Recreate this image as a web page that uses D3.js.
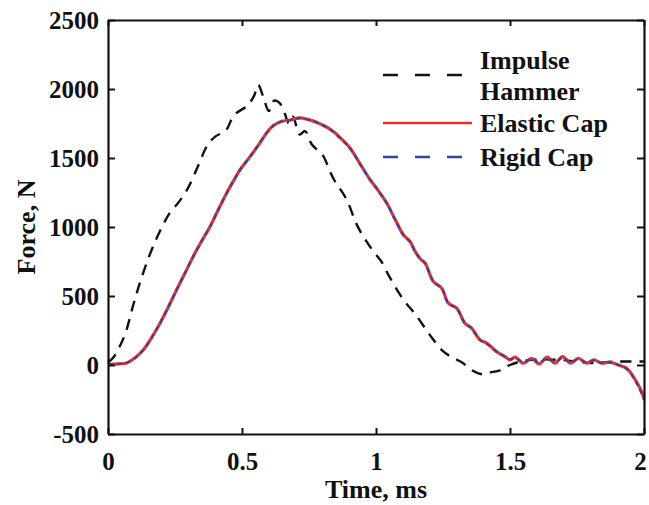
<!DOCTYPE html>
<meta charset="utf-8">
<head>
<style>
  body { margin: 0; background: #fff; }
  text { font-family: "Liberation Serif", "Times New Roman", serif; font-weight: bold; fill: #111; }
</style>
</head>
<body>
<script src="https://d3js.org/d3.v7.min.js"></script>
<script>

// ticks
var xTicks = [0, 0.5, 1, 1.5, 2];
var yTicks = [-500, 0, 500, 1000, 1500, 2000, 2500];

// series, [time ms, force N]
var hammer = [[0,20],[0.02,55],[0.04,120],[0.065,230],[0.095,440],[0.13,660],[0.175,890],[0.23,1100],[0.26,1170],
  [0.295,1270],[0.34,1460],[0.37,1590],[0.4,1655],[0.44,1700],[0.47,1810],[0.52,1880],[0.545,1950],[0.56,2030],
  [0.58,1940],[0.6,1840],[0.62,1915],[0.64,1900],[0.66,1820],[0.675,1750],[0.69,1800],[0.715,1670],[0.735,1695],
  [0.76,1600],[0.78,1560],[0.8,1525],[0.84,1355],[0.89,1200],[0.93,1010],[0.97,880],[1.0,800],[1.02,750],
  [1.05,640],[1.1,480],[1.15,360],[1.2,220],[1.25,100],[1.28,60],[1.32,20],[1.36,-40],[1.39,-65],[1.42,-55],
  [1.46,-40],[1.5,0],[1.55,30],[1.6,40],[1.7,35],[1.8,15],[1.9,25],[2.0,25]];

var elastic = [[0,5],[0.04,8],[0.07,15],[0.1,50],[0.132,110],[0.16,190],[0.194,303],[0.225,420],[0.256,545],
  [0.287,665],[0.318,787],[0.35,900],[0.381,1004],[0.41,1120],[0.443,1247],[0.47,1340],[0.493,1416],[0.53,1510],
  [0.567,1610],[0.595,1690],[0.617,1735],[0.648,1766],[0.68,1775],[0.716,1791],[0.745,1780],[0.778,1759],
  [0.81,1730],[0.84,1694],[0.87,1640],[0.903,1573],[0.94,1460],[0.978,1343],[1.01,1260],[1.04,1174],[1.07,1060],
  [1.102,944],[1.127,895],[1.146,823],[1.165,770],[1.183,739],[1.214,605],[1.245,557],[1.27,448],[1.301,412],
  [1.332,303],[1.357,267],[1.388,182],[1.413,158],[1.45,97],[1.481,61],[1.5,37],[1.519,57],[1.55,13],[1.581,49],
  [1.609,8],[1.639,57],[1.668,13],[1.696,61],[1.727,13],[1.755,49],[1.786,13],[1.813,37],[1.842,13],[1.873,20],
  [1.904,0],[1.935,-24],[1.96,-84],[1.985,-169],[2.0,-241]];

var rigid = [[0,5],[0.04,8],[0.07,15],[0.1,50],[0.132,108],[0.16,188],[0.194,300],[0.225,418],[0.256,543],
  [0.287,663],[0.318,785],[0.35,898],[0.381,1002],[0.41,1118],[0.443,1245],[0.47,1338],[0.493,1414],[0.53,1508],
  [0.567,1608],[0.595,1688],[0.617,1732],[0.648,1764],[0.68,1774],[0.716,1789],[0.745,1779],[0.778,1757],
  [0.81,1728],[0.84,1690],[0.87,1636],[0.903,1570],[0.94,1458],[0.978,1340],[1.01,1258],[1.04,1172],[1.07,1058],
  [1.102,942],[1.127,892],[1.146,822],[1.165,768],[1.183,736],[1.214,604],[1.245,555],[1.27,446],[1.301,410],
  [1.332,302],[1.357,265],[1.388,181],[1.413,156],[1.45,96],[1.481,60],[1.5,40],[1.519,50],[1.55,22],[1.581,44],
  [1.609,18],[1.639,48],[1.668,20],[1.696,50],[1.727,20],[1.755,42],[1.786,18],[1.813,34],[1.842,15],[1.873,18],
  [1.904,0],[1.935,-28],[1.96,-90],[1.985,-180],[2.0,-255]];

var legendItems = [
  {label: ["Impulse", "Hammer"], color: "#111", dash: "15,17"},
  {label: ["Elastic Cap"], color: "#e8302a", dash: null},
  {label: ["Rigid Cap"], color: "#3346a8", dash: "15,17"}
];

var width = 649, height = 505;
var margin = {top: 20, right: 5, bottom: 71, left: 108};

var svg = d3.select("body").append("svg")
    .attr("width", width)
    .attr("height", height);

var x = d3.scaleLinear().domain([0, 2]).range([margin.left, width - margin.right]);
var y = d3.scaleLinear().domain([-500, 2500]).range([height - margin.bottom, margin.top]);

var line = d3.line()
    .x(function(d){ return x(d[0]); })
    .y(function(d){ return y(d[1]); })
    .curve(d3.curveCatmullRom.alpha(0.5));

// curves
svg.append("path").datum(hammer)
    .attr("d", line).attr("fill", "none")
    .attr("stroke", "#111").attr("stroke-width", 2.4)
    .attr("stroke-dasharray", "11,8");

svg.append("path").datum(elastic)
    .attr("d", line).attr("fill", "none")
    .attr("stroke", "#e8302a").attr("stroke-width", 3.2);

svg.append("path").datum(rigid)
    .attr("d", line).attr("fill", "none")
    .attr("stroke", "#3346a8").attr("stroke-width", 2.2)
    .attr("stroke-dasharray", "5,4");

// axes (box with inward ticks)
var fmt = function(d){ return String(d); };
var axes = svg.append("g").attr("class", "axes");

var xb = axes.append("g").attr("transform", "translate(0," + y(-500) + ")")
    .call(d3.axisBottom(x).tickValues(xTicks).tickSizeInner(-6).tickSizeOuter(0).tickPadding(18).tickFormat(fmt));
axes.append("g").attr("transform", "translate(0," + y(2500) + ")")
    .call(d3.axisTop(x).tickValues(xTicks).tickSizeInner(-6).tickSizeOuter(0).tickFormat(""));
axes.append("g").attr("transform", "translate(" + x(0) + ",0)")
    .call(d3.axisLeft(y).tickValues(yTicks).tickSizeInner(-7).tickSizeOuter(0).tickPadding(9).tickFormat(fmt));
axes.append("g").attr("transform", "translate(" + x(2) + ",0)")
    .call(d3.axisRight(y).tickValues(yTicks).tickSizeInner(-7).tickSizeOuter(0).tickFormat(""));

axes.selectAll(".domain").attr("stroke", "#111").attr("stroke-width", 2.2);
axes.selectAll(".tick line").attr("stroke", "#111").attr("stroke-width", 2);
axes.selectAll(".tick text")
    .style("font-family", "'Liberation Serif', 'Times New Roman', serif")
    .style("font-weight", "bold")
    .style("font-size", "25px")
    .attr("fill", "#111");

// last x label sits on the window edge, nudge it in
xb.selectAll(".tick text").filter(function(d){ return d === 2; }).attr("dx", "-4");

// axis labels
svg.append("text")
    .attr("x", x(1))
    .attr("y", 498)
    .attr("text-anchor", "middle")
    .style("font-size", "26px")
    .text("Time, ms");

svg.append("text")
    .attr("transform", "translate(35," + y(1000) + ")rotate(-90)")
    .attr("text-anchor", "middle")
    .style("font-size", "26px")
    .text("Force, N");

// legend
var legendRows = [75, 123, 157];
var legend = svg.append("g").attr("class", "legend");
legendItems.forEach(function(item, i) {
  var ly = legendRows[i];
  legend.append("line")
      .attr("x1", 383).attr("x2", item.dash ? 462 : 472)
      .attr("y1", ly).attr("y2", ly)
      .attr("stroke", item.color).attr("stroke-width", 2.4)
      .attr("stroke-dasharray", item.dash);
  item.label.forEach(function(t, j) {
    legend.append("text")
        .attr("x", 480)
        .attr("y", ly + 9 + (i === 0 ? j * 31 - 15 : 0))
        .style("font-size", "26px")
        .text(t);
  });
});

</script>
</body>
